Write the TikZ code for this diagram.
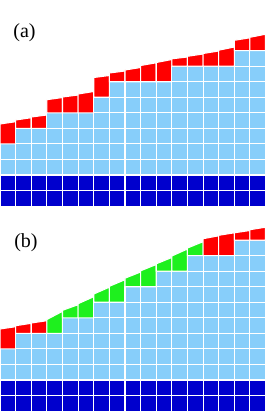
\documentclass[tikz,border=0pt]{standalone}
\usepackage{fontspec}
\setmainfont{Liberation Serif}
\definecolor{lb}{RGB}{135,206,250}
\definecolor{db}{RGB}{0,0,205}
\definecolor{gr}{RGB}{30,240,30}
\definecolor{rd}{RGB}{255,0,0}
\newcommand\drawpanel[2]{%
  \foreach \ii/\kk/\yl/\yr/\cc in {#2}{%
    \pgfmathsetmacro\xa{\ii*15.62}%
    \pgfmathsetmacro\xb{(\ii+1)*15.62}%
    \pgfmathtruncatemacro\km{\kk-1}%
    \foreach \rr in {0,1}{%
      \draw[cell,fill=db] (\xa,{#1-\rr*15.55}) rectangle (\xb,{#1-(\rr+1)*15.55});}
    \foreach \rr in {2,...,\km}{%
      \draw[cell,fill=lb] (\xa,{#1-\rr*15.55}) rectangle (\xb,{#1-(\rr+1)*15.55});}
    \draw[cell,fill=\cc] (\xa,{#1-\kk*15.55}) -- (\xb,{#1-\kk*15.55}) -- (\xb,\yr) -- (\xa,\yl) -- cycle;
  }}
\begin{document}
\begin{tikzpicture}[x=1pt,y=-1pt,
  cell/.style={draw=white,line width=1.1pt},
  lbl/.style={font=\fontsize{20}{24}\selectfont,inner sep=0pt}]
\useasboundingbox (0,0) rectangle (265,412);
% panel (a)
\drawpanel{206.1}{0/4/124/121.7/rd, 1/5/120/117.7/rd, 2/5/117/115/rd,
  3/6/99.7/97.5/rd, 4/6/97/95/rd, 5/6/94/91.5/rd,
  6/7/77.5/75.5/rd, 7/8/73/71/rd, 8/8/70/67.5/rd, 9/8/65.5/62.8/rd, 10/8/62.5/59.5/rd,
  11/9/58.8/57/rd, 12/9/56.3/54/rd, 13/9/53.5/51/rd, 14/9/50.2/47/rd,
  15/10/40.3/37.8/rd, 16/10/37.3/34.2/rd}
% panel (b)
\drawpanel{411.1}{0/4/329/326.7/rd, 1/5/325.7/323.3/rd, 2/5/323/320.7/rd,
  3/5/319.5/311.3/gr, 4/6/310.3/304.7/gr, 5/6/303.7/296.7/gr,
  6/7/294/287.2/gr, 7/7/286.3/279.7/gr, 8/8/278.2/272/gr, 9/8/270.8/264.5/gr,
  10/9/263.8/257.5/gr, 11/9/256/249/gr, 12/10/248/241.7/gr,
  13/10/238.7/235.8/rd, 14/10/235.3/232.8/rd, 15/11/232.8/230.5/rd, 16/11/229.7/227.2/rd}
\node[lbl] (la) at (24.5,33) {(a)};
\node[lbl] (lb) at (26,242.5) {(b)};
\end{tikzpicture}
\end{document}
